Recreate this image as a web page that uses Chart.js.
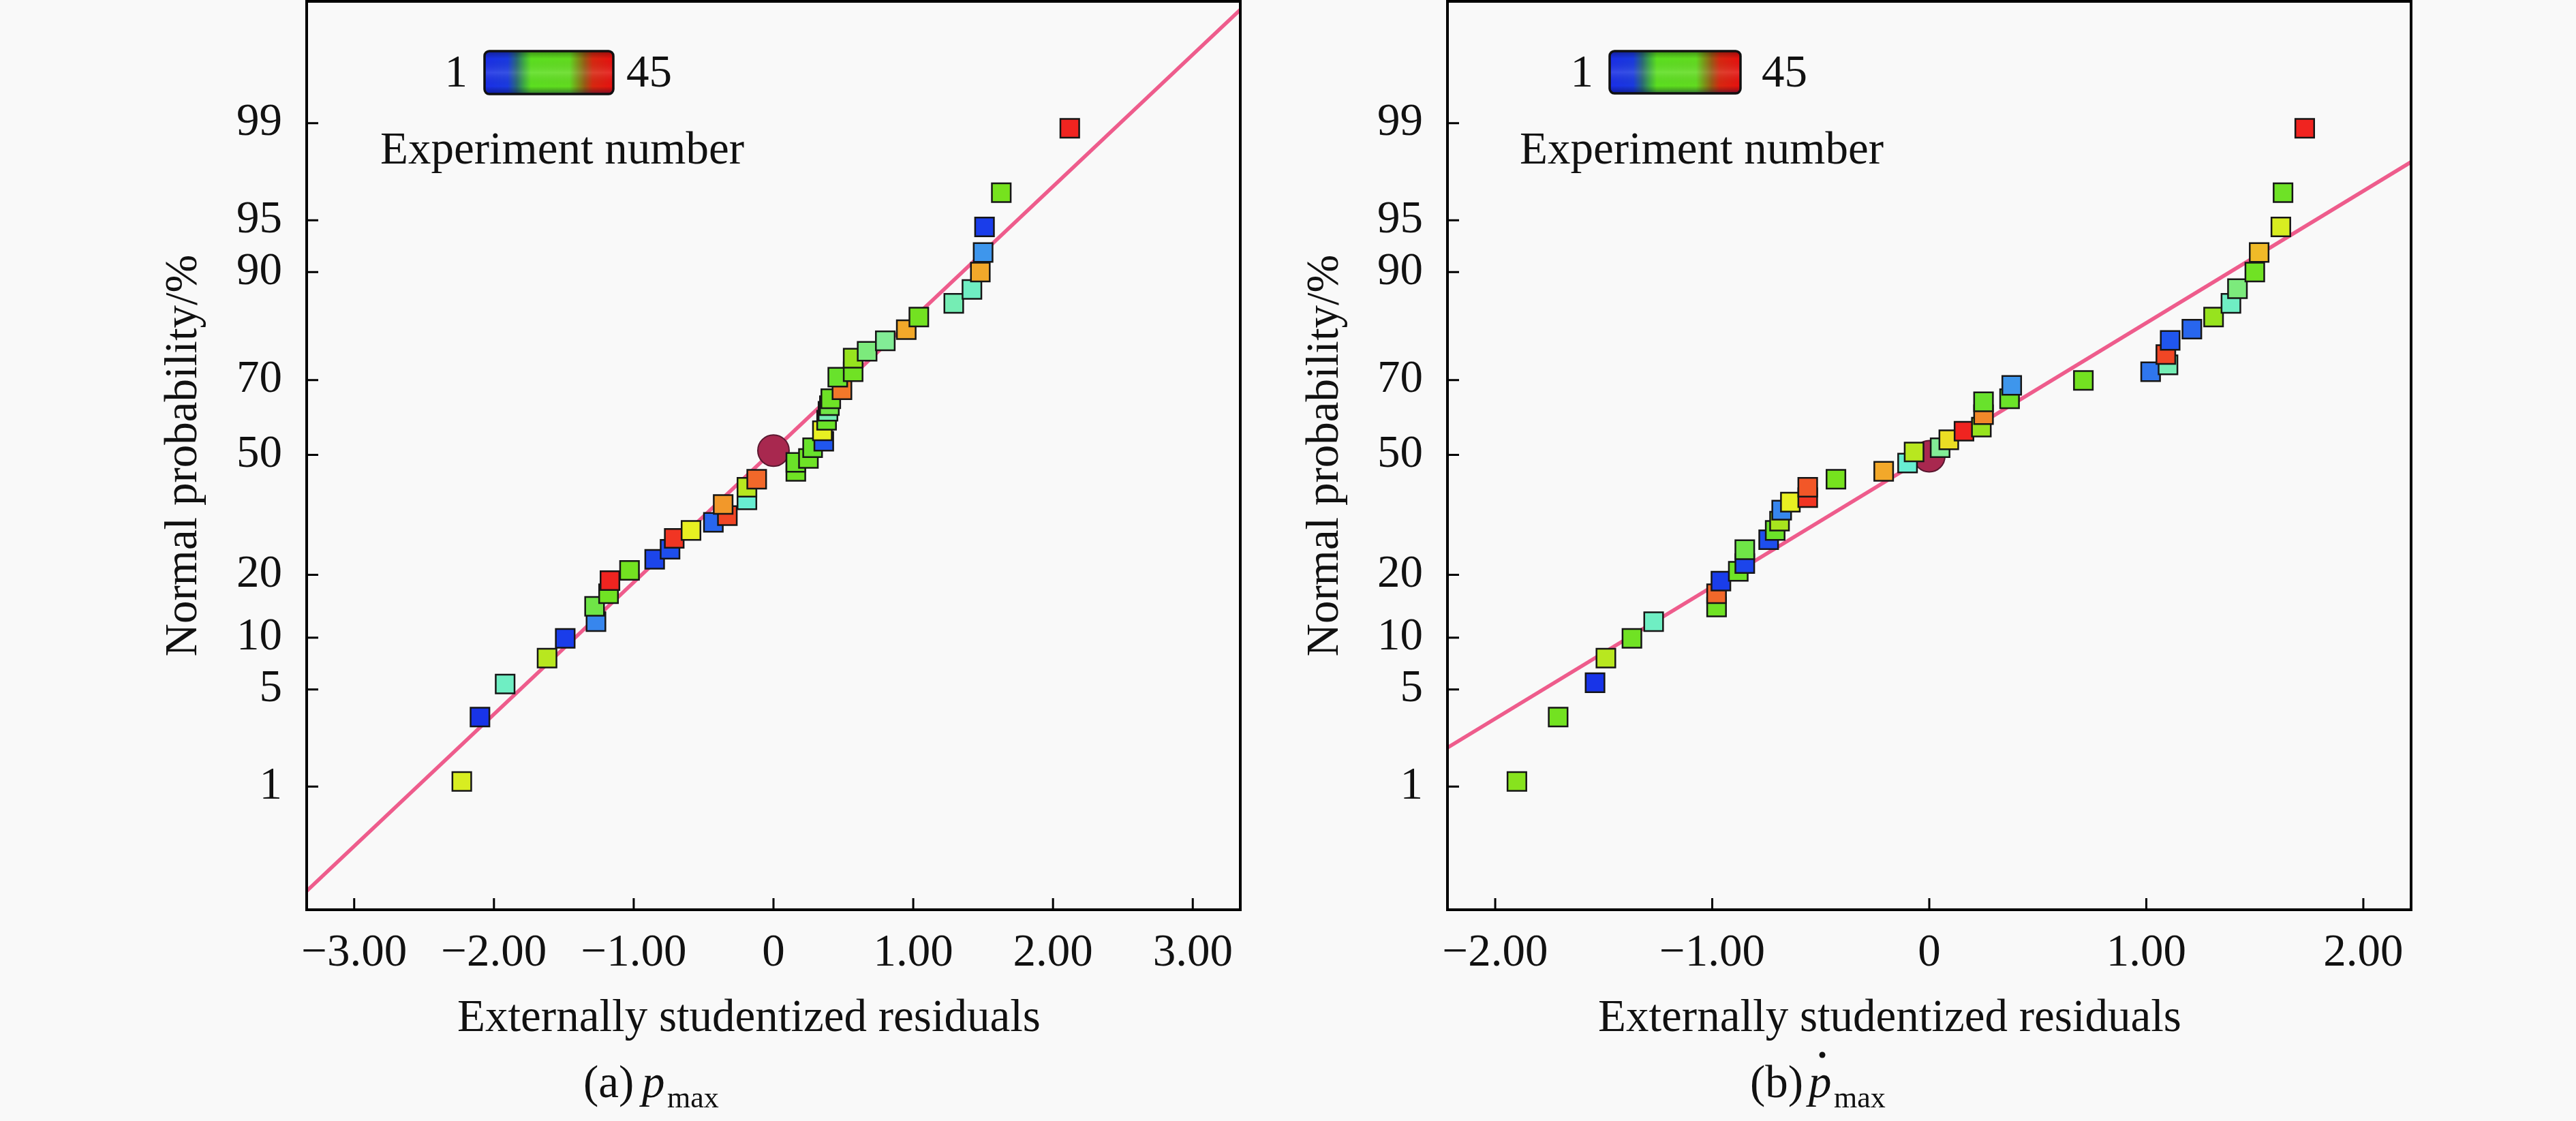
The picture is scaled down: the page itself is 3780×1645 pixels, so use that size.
<!DOCTYPE html>
<html>
<head>
<meta charset="utf-8">
<title>Normal probability plots</title>
<script src="https://cdn.jsdelivr.net/npm/chart.js@4.4.1/dist/chart.umd.min.js"></script>
<style>
  html, body { margin: 0; padding: 0; background: #f9f9f9; }
  #wrap { position: relative; width: 3780px; height: 1645px; overflow: hidden; }
  canvas { position: absolute; top: 0; }
  #pa { left: 0; }
  #pb { left: 1900px; }
</style>
</head>
<body>
<div id="wrap">
  <canvas id="pa" width="1900" height="1645"></canvas>
  <canvas id="pb" width="1880" height="1645"></canvas>
</div>
<script>
// y axis: normal probability (%), ticks shown on a probit scale
const probTicks = [1, 5, 10, 20, 50, 70, 90, 95, 99];
const probTickLabels = ['1', '5', '10', '20', '50', '70', '90', '95', '99'];

// (a) p_max
const xTicksA = [-3, -2, -1, 0, 1, 2, 3];
const xTickLabelsA = ['\u22123.00', '\u22122.00', '\u22121.00', '0', '1.00', '2.00', '3.00'];
const residA = [-2.23, -2.10, -1.92, -1.62, -1.49, -1.27, -1.28, -1.18, -1.17, -1.03,
  -0.85, -0.74, -0.71, -0.59, -0.43, -0.33, -0.36, -0.19, -0.19, -0.12,
  0.16, 0.16, 0.25, 0.28, 0.36, 0.35, 0.38, 0.39, 0.40, 0.41,
  0.49, 0.46, 0.57, 0.57, 0.67, 0.80, 0.95, 1.04, 1.29, 1.42,
  1.48, 1.50, 1.51, 1.63, 2.12];
const probA = [1.1, 3.3, 5.4, 7.7, 9.9, 12.1, 14.4, 16.5, 18.9, 20.9,
  23.2, 25.4, 27.9, 29.8, 31.8, 33.5, 36.4, 37.6, 41.0, 43.2,
  45.4, 47.9, 49.0, 52.0, 53.8, 56.7, 59.6, 62.0, 63.5, 65.3,
  67.6, 70.7, 72.0, 75.1, 76.6, 78.8, 81.0, 83.3, 85.6, 87.7,
  90.0, 92.2, 94.5, 96.7, 98.9];
const runA = [32, 1, 14, 30, 2, 8, 20, 24, 45, 25,
  3, 4, 44, 33, 6, 43, 38, 13, 30, 41,
  24, 22, 23, 21, 5, 33, 22, 15, 20, 23,
  40, 21, 24, 28, 18, 17, 37, 25, 15, 14,
  37, 9, 2, 26, 45];
const centerXA = [0];
const centerPA = [51.2];
const fitXA = [-3.34, 3.34];
const fitPA = [0.111, 99.91];

// (b) dp/dt max
const xTicksB = [-2, -1, 0, 1, 2];
const xTickLabelsB = ['\u22122.00', '\u22121.00', '0', '1.00', '2.00'];
const residB = [-1.90, -1.71, -1.54, -1.49, -1.37, -1.27, -0.98, -0.98, -0.96, -0.88,
  -0.85, -0.85, -0.74, -0.71, -0.69, -0.68, -0.64, -0.56, -0.56, -0.43,
  -0.21, -0.10, -0.07, 0.05, 0.09, 0.16, 0.24, 0.25, 0.25, 0.37,
  0.38, 0.71, 1.02, 1.10, 1.09, 1.11, 1.21, 1.31, 1.39, 1.42,
  1.50, 1.52, 1.62, 1.63, 1.73];
const probB = [1.1, 3.3, 5.5, 7.7, 9.9, 12.1, 14.3, 16.5, 18.8, 20.7,
  22.3, 25.3, 27.6, 29.8, 32.1, 34.9, 37.0, 38.2, 41.0, 43.2,
  45.4, 47.7, 50.8, 52.0, 54.2, 56.6, 57.7, 61.1, 64.5, 65.3,
  68.7, 69.9, 72.0, 73.6, 75.9, 78.9, 81.1, 83.3, 85.6, 87.8,
  90.0, 92.2, 94.5, 96.7, 98.9];
const runB = [27, 25, 1, 30, 24, 14, 24, 41, 2, 23,
  3, 20, 4, 22, 29, 8, 33, 44, 42, 26,
  37, 13, 30, 17, 34, 45, 28, 39, 21, 22,
  9, 25, 7, 15, 43, 5, 6, 28, 14, 18,
  24, 36, 32, 23, 45];
const centerXB = [0];
const centerPB = [49.6];
const fitXB = [-2.22, 2.22];
const fitPB = [2.0, 98.0];

// inverse normal CDF (Acklam)
function probit(p) {
  const a = [-39.69683028665376, 220.9460984245205, -275.9285104469687, 138.3577518672690, -30.66479806614716, 2.506628277459239];
  const b = [-54.47609879822406, 161.5858368580409, -155.6989798598866, 66.80131188771972, -13.28068155288572];
  const c = [-0.007784894002430293, -0.3223964580411365, -2.400758277161838, -2.549732539343734, 4.374664141464968, 2.938163982698783];
  const d = [0.007784695709041462, 0.3224671290700398, 2.445134137142996, 3.754408661907416];
  const lo = 0.02425;
  let q, r;
  if (p < lo) {
    q = Math.sqrt(-2 * Math.log(p));
    return (((((c[0]*q+c[1])*q+c[2])*q+c[3])*q+c[4])*q+c[5]) / ((((d[0]*q+d[1])*q+d[2])*q+d[3])*q+1);
  }
  if (p <= 1 - lo) {
    q = p - 0.5; r = q * q;
    return (((((a[0]*r+a[1])*r+a[2])*r+a[3])*r+a[4])*r+a[5])*q / (((((b[0]*r+b[1])*r+b[2])*r+b[3])*r+b[4])*r+1);
  }
  q = Math.sqrt(-2 * Math.log(1 - p));
  return -(((((c[0]*q+c[1])*q+c[2])*q+c[3])*q+c[4])*q+c[5]) / ((((d[0]*q+d[1])*q+d[2])*q+d[3])*q+1);
}

function toPoints(xs, ps) {
  return xs.map((x, i) => ({ x: x, y: probit(ps[i] / 100) }));
}

// colour of a run number (1..45), blue -> cyan -> green -> yellow -> red
const runStops = [[1, [24, 52, 232]], [5, [32, 86, 238]], [9, [62, 150, 236]], [13, [104, 238, 210]],
  [17, [130, 236, 150]], [21, [104, 226, 44]], [26, [118, 226, 30]], [29, [168, 228, 30]],
  [33, [232, 240, 34]], [37, [242, 168, 42]], [41, [242, 104, 42]], [45, [240, 36, 32]]];
function runColor(n) {
  for (let i = 1; i < runStops.length; i++) {
    const [n1, c1] = runStops[i];
    const [n0, c0] = runStops[i - 1];
    if (n <= n1) {
      const t = (n - n0) / (n1 - n0);
      const c = c0.map((v, k) => Math.round(v + (c1[k] - v) * t));
      return 'rgb(' + c.join(',') + ')';
    }
  }
  return 'rgb(240,36,32)';
}

const FONT = '"Liberation Serif", "Times New Roman", serif';
Chart.defaults.font.family = FONT;
Chart.defaults.font.size = 67;
Chart.defaults.color = '#111';

const frameAndTicks = {
  id: 'frameAndTicks',
  afterDraw(chart) {
    const { ctx, chartArea: a, scales: { x, y } } = chart;
    ctx.save();
    ctx.strokeStyle = '#000';
    ctx.lineWidth = 3;
    ctx.beginPath();
    x.ticks.forEach(t => {
      const px = x.getPixelForValue(t.value);
      ctx.moveTo(px, a.bottom); ctx.lineTo(px, a.bottom - 17);
    });
    y.ticks.forEach(t => {
      const py = y.getPixelForValue(t.value);
      ctx.moveTo(a.left, py); ctx.lineTo(a.left + 17, py);
    });
    ctx.stroke();
    ctx.lineWidth = 4;
    ctx.strokeRect(a.left, a.top, a.right - a.left, a.bottom - a.top);
    ctx.restore();
  }
};

function decorations(p) {
  return {
    id: 'decor',
    afterDraw(chart) {
      const ctx = chart.ctx;
      ctx.save();
      // colour bar
      const cb = p.bar;
      const g = ctx.createLinearGradient(cb.x0, 0, cb.x1, 0);
      [[0, '#1a2ee8'], [0.18, '#1a3ae0'], [0.25, '#2a6a78'], [0.31, '#40b040'], [0.36, '#5ce020'],
       [0.66, '#62dc20'], [0.72, '#7a9a18'], [0.78, '#9a5a14'], [0.84, '#d82810'], [1, '#e81010']]
        .forEach(s => g.addColorStop(s[0], s[1]));
      ctx.beginPath();
      ctx.roundRect(cb.x0, cb.y0, cb.x1 - cb.x0, cb.y1 - cb.y0, 7);
      ctx.fillStyle = g;
      ctx.fill();
      const sh = ctx.createLinearGradient(0, cb.y0, 0, cb.y1);
      sh.addColorStop(0, 'rgba(0,0,0,0.35)');
      sh.addColorStop(0.18, 'rgba(0,0,0,0)');
      sh.addColorStop(0.5, 'rgba(255,255,255,0.12)');
      sh.addColorStop(0.82, 'rgba(0,0,0,0)');
      sh.addColorStop(1, 'rgba(0,0,90,0.45)');
      ctx.fillStyle = sh;
      ctx.fill();
      ctx.lineWidth = 3.5;
      ctx.strokeStyle = '#111';
      ctx.stroke();

      ctx.fillStyle = '#111';
      ctx.font = '67px ' + FONT;
      ctx.textBaseline = 'alphabetic';
      ctx.textAlign = 'right';
      ctx.fillText('1', p.oneX, 127);
      ctx.textAlign = 'left';
      ctx.fillText('45', p.fortyFiveX, 127);
      ctx.fillText('Experiment number', p.expX, 240);

      // x axis title
      ctx.textAlign = 'center';
      ctx.textBaseline = 'middle';
      ctx.fillText('Externally studentized residuals', p.xTitleX, 1495);

      // caption
      const cx = p.capX, base = 1610;
      ctx.textAlign = 'left';
      ctx.textBaseline = 'alphabetic';
      ctx.fillText(p.capLabel, cx, base);
      ctx.font = 'italic 67px ' + FONT;
      ctx.fillText('p', cx + 86, base);
      if (p.dot) {
        ctx.beginPath();
        ctx.arc(cx + 106, base - 62, 4.5, 0, Math.PI * 2);
        ctx.fill();
      }
      ctx.font = '44px ' + FONT;
      ctx.fillText('max', cx + 123, base + 15);
      ctx.restore();
    }
  };
}

function buildPanel(id, p) {
  return new Chart(document.getElementById(id), {
    type: 'scatter',
    data: {
      datasets: [
        {
          data: toPoints(p.resid, p.prob),
          order: 0,
          pointStyle: 'rect',
          pointRadius: 19.5,
          pointBackgroundColor: p.runs.map(runColor),
          pointBorderColor: '#161616',
          pointBorderWidth: 2.5
        },
        {
          data: toPoints(p.centerX, p.centerP),
          order: 1,
          pointStyle: 'circle',
          pointRadius: 23,
          pointBackgroundColor: '#a8284f',
          pointBorderColor: '#5a1830',
          pointBorderWidth: 2
        },
        {
          type: 'line',
          data: toPoints(p.fitX, p.fitP),
          order: 2,
          borderColor: '#ee5c8c',
          borderWidth: 5.5,
          pointRadius: 0,
          fill: false
        }
      ]
    },
    options: {
      responsive: false,
      devicePixelRatio: 1,
      animation: false,
      events: [],
      layout: { autoPadding: false, padding: { left: p.padL, right: p.padR, top: 2, bottom: 0 } },
      plugins: { legend: { display: false }, tooltip: { enabled: false } },
      scales: {
        x: {
          type: 'linear',
          min: p.xMin,
          max: p.xMax,
          afterBuildTicks: s => { s.ticks = p.xTicks.map(v => ({ value: v })); },
          afterFit: s => { s.height = 310; s.paddingLeft = 0; s.paddingRight = 0; },
          grid: { display: false },
          border: { display: false },
          ticks: { autoSkip: false, maxRotation: 0, padding: 16, callback: (v, i) => p.xTickLabels[i] }
        },
        y: {
          type: 'linear',
          min: -3.19,
          max: 3.18,
          afterBuildTicks: s => { s.ticks = probTicks.map(q => ({ value: probit(q / 100) })); },
          afterFit: s => { s.width = p.yAxisW; s.paddingTop = 0; s.paddingBottom = 0; },
          grid: { display: false },
          border: { display: false },
          ticks: { autoSkip: false, padding: 28, callback: (v, i) => probTickLabels[i] },
          title: { display: true, text: 'Normal probability/%', padding: { top: p.yTitlePad, bottom: 0 } }
        }
      }
    },
    plugins: [frameAndTicks, decorations(p)]
  });
}

buildPanel('pa', {
  resid: residA, prob: probA, runs: runA,
  centerX: centerXA, centerP: centerPA, fitX: fitXA, fitP: fitPA,
  xTicks: xTicksA, xTickLabels: xTickLabelsA, xMin: -3.34, xMax: 3.34,
  padL: 220, padR: 80, yAxisW: 230, yTitlePad: 10,
  bar: { x0: 711, x1: 900, y0: 75, y1: 138 }, oneX: 686, fortyFiveX: 919, expX: 558,
  xTitleX: 1099, capX: 856, capLabel: '(a)', dot: false
});

buildPanel('pb', {
  resid: residB, prob: probB, runs: runB,
  centerX: centerXB, centerP: centerPB, fitX: fitXB, fitP: fitPB,
  xTicks: xTicksB, xTickLabels: xTickLabelsB, xMin: -2.22, xMax: 2.22,
  padL: 0, padR: 242, yAxisW: 224, yTitlePad: 5,
  bar: { x0: 462, x1: 654, y0: 75, y1: 137 }, oneX: 438, fortyFiveX: 685, expX: 330,
  xTitleX: 873, capX: 668, capLabel: '(b)', dot: true
});
</script>
</body>
</html>
